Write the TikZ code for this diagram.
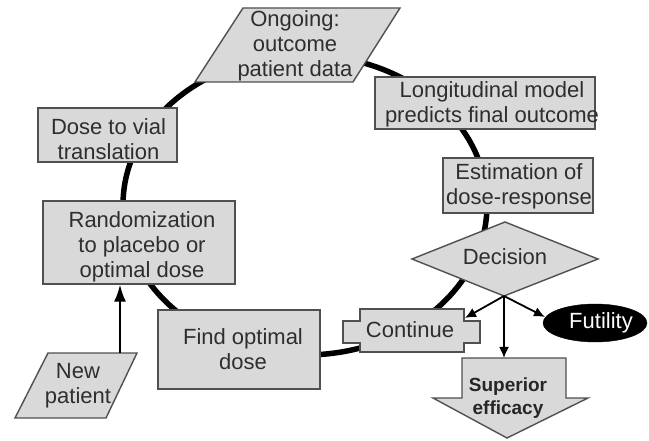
\documentclass[tikz,border=0pt]{standalone}
\usepackage{fontspec}
\setmainfont{Liberation Sans}
\usetikzlibrary{arrows.meta,shapes.geometric}
\definecolor{boxfill}{HTML}{D9D9D9}
\definecolor{boxline}{HTML}{505050}
\definecolor{txtc}{HTML}{2E2E2E}
\tikzset{
  box/.style={draw=boxline, fill=boxfill, line width=1.4pt, inner sep=0pt},
  txt/.style={text=txtc, align=center, font=\fontsize{22}{25}\selectfont, inner sep=0pt},
  flow/.style={line width=1.8pt, -{Latex[length=11pt,width=10pt]}},
  bigflow/.style={line width=1.8pt, -{Latex[length=17pt,width=12pt]}},
  cyclepath/.style={line width=5.5pt},
}
\begin{document}
\begin{tikzpicture}[x=1pt,y=-1pt]
\useasboundingbox (0,0) rectangle (649,441);
\fill[white] (0,0) rectangle (649,441);

% the cycle
\draw[cyclepath] (305,205) ellipse [x radius=182pt, y radius=150pt];

% Ongoing
\filldraw[box] (243,8) -- (400,8) -- (353,82) -- (195,82) -- cycle;
\node[txt] (ongoing) at (295,46) {Ongoing:\\outcome\\patient data};

% Longitudinal model
\node[box, minimum width=220pt, minimum height=52pt] (lon) at (485,103) {};
\node[txt] (lontxt) at (492,104) {Longitudinal model\\predicts final outcome};

% Estimation
\node[box, minimum width=150pt, minimum height=55pt] (est) at (518,185.5) {};
\node[txt] (esttxt) at (519,186) {Estimation of\\dose-response};

% Decision
\filldraw[box] (412,259) -- (505,222) -- (598,259) -- (504,296) -- cycle;
\node[txt] (dec) at (505,257) {Decision};
\coordinate (dec-b) at (504,296);

% Continue
\filldraw[box] (360,309) -- (464,309) -- (464,321) -- (480,321) -- (480,343) -- (464,343)
  -- (464,352) -- (360,352) -- (360,343) -- (343,343) -- (343,321) -- (360,321) -- cycle;
\node[txt] (cont) at (410,330) {Continue};
\coordinate (cont-in) at (465,318);

% Futility
\node[ellipse, fill=black, draw=black, minimum width=104pt, minimum height=38pt, inner sep=0pt] (fut) at (595,323) {};
\node[txt, text=white] (futtxt) at (601,323) {Futility};
\coordinate (fut-in) at (545,317);

% Superior efficacy
\filldraw[box] (462,358) -- (566,358) -- (566,398) -- (588,398) -- (507,438) -- (433,398) -- (462,398) -- cycle;
\node[txt, text=black!85, font=\bfseries\fontsize{19}{23}\selectfont] (sup) at (508,398) {Superior\\efficacy};
\coordinate (sup-top) at (504,358);

% Find optimal dose
\node[box, minimum width=162pt, minimum height=79pt] (find) at (239,349.5) {};
\node[txt] (findtxt) at (243,349) {Find optimal\\dose};

% Randomization
\node[box, minimum width=192pt, minimum height=83pt] (rnd) at (139,242.5) {};
\node[txt] (rndtxt) at (142,247) {Randomization\\to placebo or\\optimal dose};

% Dose to vial
\node[box, minimum width=139pt, minimum height=54pt] (vial) at (107.5,135) {};
\node[txt] (vialtxt) at (108.5,139) {Dose to vial\\translation};

% New patient
\filldraw[box] (48,353) -- (137,353) -- (106,418) -- (15,418) -- cycle;
\node[txt] (newp) at (78,386) {New\\patient};
\coordinate (np-top) at (120,353);

% arrows
\draw[bigflow] (np-top) -- (rnd.south -| np-top);
\draw[flow] (dec-b) -- (cont-in);
\draw[flow] (dec-b) -- (sup-top);
\draw[flow] (dec-b) -- (fut-in);
\end{tikzpicture}
\end{document}
